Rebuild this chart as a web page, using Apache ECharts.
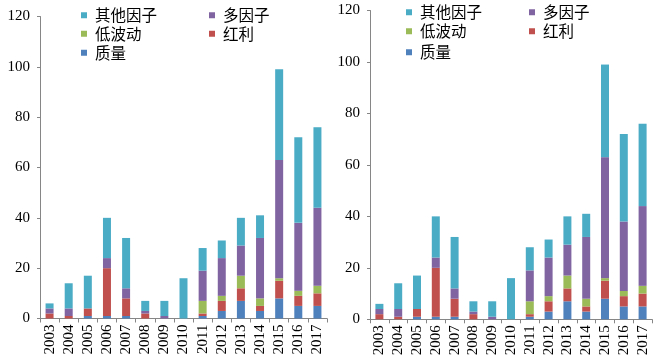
<!DOCTYPE html>
<html><head><meta charset="utf-8">
<script src="https://cdn.jsdelivr.net/npm/echarts@6/dist/echarts.min.js"></script>
<style>html,body{margin:0;padding:0;background:#fff}#c{width:658px;height:362px}</style>
</head><body><div id="c"></div>
<script>
const years = ['2003','2004','2005','2006','2007','2008','2009','2010','2011','2012','2013','2014','2015','2016','2017'];
const quality   = [0,0,1,1,1,0,0,0,1,3,7,3,8,5,5];
const dividend  = [2,1,3,19,7,2,0,0,1,4,5,2,7,4,5];
const lowVol    = [0,0,0,0,0,0,0,0,5,2,5,3,1,2,3];
const multi     = [2,3,0,4,4,1,1,0,12,15,12,24,47,27,31];
const others    = [2,10,13,16,20,4,6,16,9,7,11,9,36,34,32];
const yTicks = {min:0, max:120, interval:20};

const names = ['质量','红利','低波动','多因子','其他因子'];
const colors = ['#4F81BD','#C0504D','#9BBB59','#8064A2','#4BACC6'];
const values = [quality, dividend, lowVol, multi, others];

const grids = [
  {left:40, right:331, top:16.5, bottom:43.5},
  {left:370, right:6, top:10.5, bottom:42.7}
];
const legendPos = [
  {x1:81, x2:209, rows:[7.5,26,45]},
  {x1:406, x2:529, rows:[4.5,23.5,44.5]}
];

const xAxis = [], yAxis = [], series = [], legend = [];
grids.forEach((g, gi) => {
  xAxis.push({
    type:'category', data:years, gridIndex:gi,
    axisLine:{lineStyle:{color:'#868686'}},
    axisTick:{show:true, length:4, interval:0, lineStyle:{color:'#868686'}},
    axisLabel:{rotate:90, interval:0, color:'#000', fontFamily:'Liberation Serif', fontSize:15, margin:6}
  });
  yAxis.push({
    type:'value', gridIndex:gi, min:yTicks.min, max:yTicks.max, interval:yTicks.interval,
    axisLine:{show:true, lineStyle:{color:'#868686'}},
    axisTick:{show:true, length:3, lineStyle:{color:'#868686'}},
    splitLine:{show:false},
    axisLabel:{color:'#000', fontFamily:'Liberation Serif', fontSize:15, margin:10}
  });
  names.forEach((n, i) => {
    series.push({
      name:n, type:'bar', stack:'s'+gi, xAxisIndex:gi, yAxisIndex:gi,
      data:values[i], barWidth:8, itemStyle:{color:colors[i]}
    });
  });
  const lp = legendPos[gi];
  const items = [
    ['其他因子', lp.x1, lp.rows[0]], ['多因子', lp.x2, lp.rows[0]],
    ['低波动', lp.x1, lp.rows[1]], ['红利', lp.x2, lp.rows[1]],
    ['质量', lp.x1, lp.rows[2]]
  ];
  items.forEach(it => {
    legend.push({
      data:[it[0]], left:it[1], top:it[2], padding:0,
      itemWidth:6, itemHeight:6, icon:'rect', selectedMode:false,
      textStyle:{color:'#000', fontFamily:'Noto Sans CJK SC', fontSize:15.5, padding:[0,0,0,3]}
    });
  });
});

const chart = echarts.init(document.getElementById('c'), null, {renderer:'canvas'});
chart.setOption({
  animation:false, backgroundColor:'#fff',
  grid:grids, xAxis, yAxis, series, legend
});
</script></body></html>
